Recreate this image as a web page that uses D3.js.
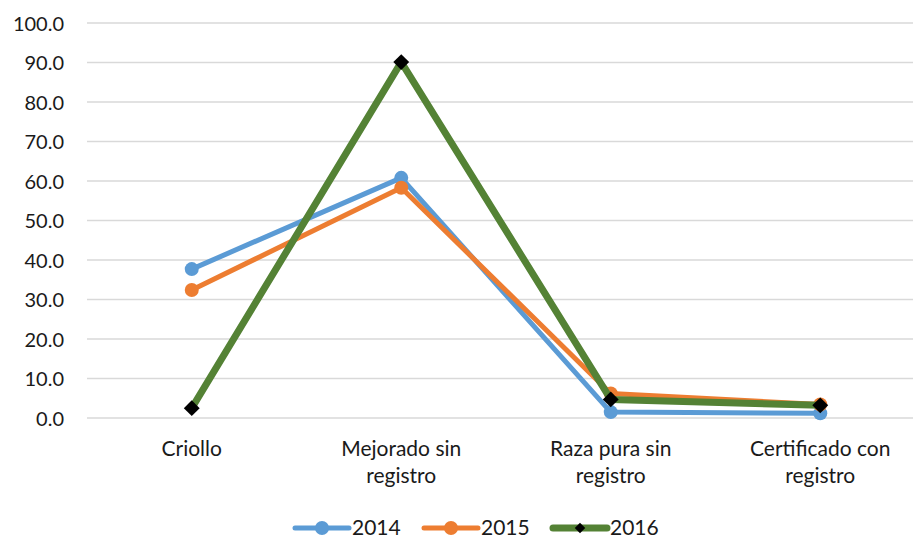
<!DOCTYPE html>
<html>
<head>
<meta charset="utf-8">
<script src="https://cdn.jsdelivr.net/npm/d3@7"></script>
<style>
  body { margin: 0; background: #fff; }
  svg text { font-family: Lato, "Open Sans", sans-serif; fill: #1a1a1a; }
</style>
</head>
<body>
<svg id="chart" width="913" height="538"></svg>
<script>
// Categories and yearly percentages
const categories = [
  ["Criollo"],
  ["Mejorado sin", "registro"],
  ["Raza pura sin", "registro"],
  ["Certificado con", "registro"]
];
const categoryKeys = ["Criollo", "Mejorado sin registro", "Raza pura sin registro", "Certificado con registro"];
const years = ["2014", "2015", "2016"];
const values2014 = [37.7, 60.8, 1.5, 1.2];
const values2015 = [32.4, 58.3, 6.2, 3.4];
const values2016 = [2.5, 90.1, 4.7, 3.2];
const yTicks = [0, 10, 20, 30, 40, 50, 60, 70, 80, 90, 100];

const seriesValues = [values2014, values2015, values2016];
const colors = ["#5B9BD5", "#ED7D31", "#548235"];

const svg = d3.select("#chart");

const x = d3.scaleBand().domain(categoryKeys).range([87, 925]);
const y = d3.scaleLinear().domain([0, 100]).range([418, 23]);

// Gridlines
svg.append("g")
  .selectAll("line")
  .data(yTicks)
  .join("line")
  .attr("x1", 87).attr("x2", 913)
  .attr("y1", d => y(d)).attr("y2", d => y(d))
  .attr("stroke", "#D9D9D9").attr("stroke-width", 1.5);

// Y axis labels
const yAxis = d3.axisLeft(y).tickValues(yTicks).tickFormat(d3.format(".1f")).tickSize(0).tickPadding(0);
const yg = svg.append("g").attr("transform", "translate(64,0)").call(yAxis);
yg.select(".domain").remove();
yg.selectAll("text")
  .attr("font-size", 20)
  .attr("font-family", "Lato, 'Open Sans', sans-serif")
  .attr("fill", "#1a1a1a")
  .attr("dy", "0.35em");

// Category labels
const cx = k => x(k) + x.bandwidth() / 2;
const catG = svg.append("g");
categoryKeys.forEach((k, i) => {
  const t = catG.append("text")
    .attr("x", cx(k)).attr("y", 456)
    .attr("text-anchor", "middle")
    .attr("font-size", 21);
  categories[i].forEach((line, j) => {
    t.append("tspan").attr("x", cx(k)).attr("dy", j === 0 ? 0 : 27).text(line);
  });
});

// Series lines and markers
const line = d3.line().x((d, i) => cx(categoryKeys[i])).y(d => y(d));
const diamond = d3.symbol().type(d3.symbolDiamond2).size(160);

seriesValues.forEach((vals, s) => {
  const g = svg.append("g");
  g.append("path")
    .datum(vals)
    .attr("d", line)
    .attr("fill", "none")
    .attr("stroke", colors[s])
    .attr("stroke-width", s === 2 ? 7 : 5)
    .attr("stroke-linejoin", "round")
    .attr("stroke-linecap", "round");
  if (s < 2) {
    g.selectAll("circle")
      .data(vals)
      .join("circle")
      .attr("cx", (d, i) => cx(categoryKeys[i]))
      .attr("cy", d => y(d))
      .attr("r", 7)
      .attr("fill", colors[s]);
  } else {
    g.selectAll("path.mk")
      .data(vals)
      .join("path")
      .attr("class", "mk")
      .attr("transform", (d, i) => `translate(${cx(categoryKeys[i])},${y(d)})`)
      .attr("d", diamond)
      .attr("fill", "#000");
  }
});

// Legend
const legendX = [295, 424, 553];
years.forEach((yr, s) => {
  const g = svg.append("g").attr("transform", `translate(${legendX[s]},528)`);
  g.append("line")
    .attr("x1", 0).attr("x2", 54).attr("y1", 0).attr("y2", 0)
    .attr("stroke", colors[s]).attr("stroke-width", s === 2 ? 7 : 5)
    .attr("stroke-linecap", "round");
  if (s < 2) {
    g.append("circle").attr("cx", 27).attr("cy", 0).attr("r", 7).attr("fill", colors[s]);
  } else {
    g.append("path").attr("transform", "translate(27,0)")
      .attr("d", d3.symbol().type(d3.symbolDiamond2).size(70)).attr("fill", "#000");
  }
  g.append("text").attr("x", 57).attr("y", 0).attr("dy", "0.35em")
    .attr("font-size", 21).text(yr);
});
</script>
</body>
</html>
